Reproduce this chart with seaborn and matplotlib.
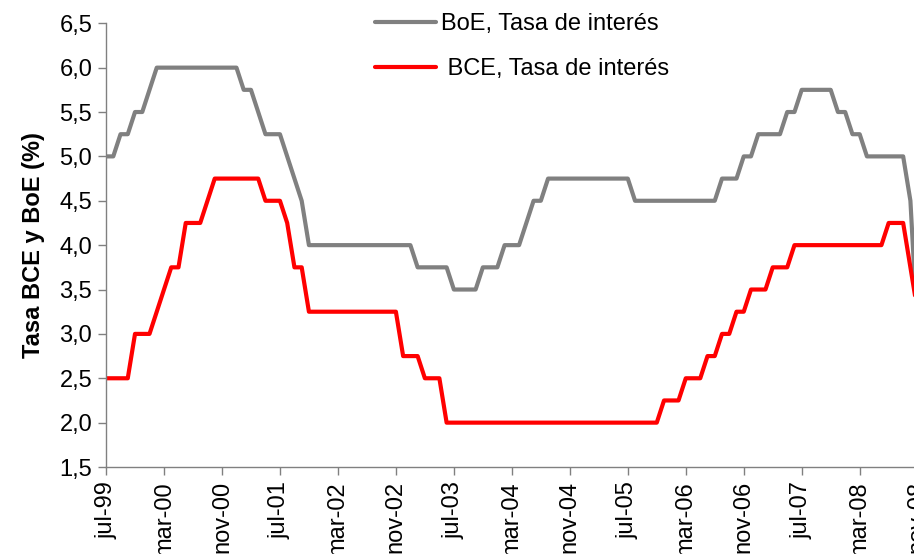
import pandas as pd
import matplotlib
matplotlib.use("Agg")
import matplotlib.pyplot as plt
from matplotlib.ticker import FuncFormatter
import seaborn as sns

# monthly end-of-month rates, jul-99 .. nov-08
boe = [5.0, 5.0, 5.25, 5.25, 5.5, 5.5, 5.75, 6.0,
       6.0, 6.0, 6.0, 6.0, 6.0, 6.0, 6.0, 6.0, 6.0, 6.0, 6.0,
       5.75, 5.75, 5.5, 5.25, 5.25, 5.25, 5.0, 4.75, 4.5,
       4.0, 4.0, 4.0, 4.0, 4.0, 4.0, 4.0, 4.0, 4.0, 4.0, 4.0, 4.0, 4.0, 4.0, 4.0,
       3.75, 3.75, 3.75, 3.75, 3.75,
       3.5, 3.5, 3.5, 3.5,
       3.75, 3.75, 3.75,
       4.0, 4.0, 4.0,
       4.25, 4.5, 4.5,
       4.75, 4.75, 4.75, 4.75, 4.75, 4.75, 4.75, 4.75, 4.75, 4.75, 4.75, 4.75,
       4.5, 4.5, 4.5, 4.5, 4.5, 4.5, 4.5, 4.5, 4.5, 4.5, 4.5, 4.5,
       4.75, 4.75, 4.75,
       5.0, 5.0,
       5.25, 5.25, 5.25, 5.25,
       5.5, 5.5,
       5.75, 5.75, 5.75, 5.75, 5.75,
       5.5, 5.5,
       5.25, 5.25,
       5.0, 5.0, 5.0, 5.0, 5.0, 5.0,
       4.5, 3.0]

bce = [2.5, 2.5, 2.5, 2.5,
       3.0, 3.0, 3.0,
       3.25, 3.5, 3.75, 3.75,
       4.25, 4.25, 4.25,
       4.5,
       4.75, 4.75, 4.75, 4.75, 4.75, 4.75, 4.75,
       4.5, 4.5, 4.5,
       4.25,
       3.75, 3.75,
       3.25, 3.25, 3.25, 3.25, 3.25, 3.25, 3.25, 3.25, 3.25, 3.25, 3.25, 3.25, 3.25,
       2.75, 2.75, 2.75,
       2.5, 2.5, 2.5,
       2.0, 2.0, 2.0, 2.0, 2.0, 2.0, 2.0, 2.0, 2.0, 2.0,
       2.0, 2.0, 2.0, 2.0, 2.0, 2.0, 2.0, 2.0, 2.0, 2.0,
       2.0, 2.0, 2.0, 2.0, 2.0, 2.0, 2.0, 2.0, 2.0, 2.0,
       2.25, 2.25, 2.25,
       2.5, 2.5, 2.5,
       2.75, 2.75,
       3.0, 3.0,
       3.25, 3.25,
       3.5, 3.5, 3.5,
       3.75, 3.75, 3.75,
       4.0, 4.0, 4.0, 4.0, 4.0, 4.0, 4.0, 4.0, 4.0, 4.0, 4.0, 4.0, 4.0,
       4.25, 4.25, 4.25,
       3.75, 3.25]

tick_labels = ["jul-99", "mar-00", "nov-00", "jul-01", "mar-02", "nov-02", "jul-03",
               "mar-04", "nov-04", "jul-05", "mar-06", "nov-06", "jul-07", "mar-08", "nov-08"]

boe_name = "BoE, Tasa de interés"
bce_name = " BCE, Tasa de interés"

df = pd.concat([
    pd.DataFrame({"mes": range(len(boe)), "tasa": boe, "serie": boe_name}),
    pd.DataFrame({"mes": range(len(bce)), "tasa": bce, "serie": bce_name}),
])

sns.set_style("white")
plt.rcParams["font.family"] = ["Liberation Sans", "DejaVu Sans"]
plt.rcParams["text.color"] = "black"
plt.rcParams["axes.labelcolor"] = "black"

fig = plt.figure(figsize=(9.14, 5.54), dpi=100)
ax = fig.add_axes([0.116, 0.157, 0.888, 0.801])

sns.lineplot(data=df, x="mes", y="tasa", hue="serie",
             palette={boe_name: "#808080", bce_name: "#ff0000"},
             linewidth=3, ax=ax)

ax.set_xlim(0, len(boe) - 1)
ax.set_ylim(1.5, 6.5)
ax.set_yticks([1.5 + 0.5 * k for k in range(11)])
ax.yaxis.set_major_formatter(FuncFormatter(lambda v, p: f"{v:.1f}".replace(".", ",")))
ax.set_xticks(range(0, len(boe), 8))
ax.set_xticklabels(tick_labels, rotation=90)

ax.tick_params(axis="both", labelsize=17, length=6, width=1, color="#808080",
               labelcolor="black", direction="out", pad=4)
ax.tick_params(axis="y", left=True)
ax.tick_params(axis="x", bottom=True)
for s in ["top", "right"]:
    ax.spines[s].set_visible(False)
for s in ["left", "bottom"]:
    ax.spines[s].set_color("#808080")
    ax.spines[s].set_linewidth(1)

ax.set_xlabel("")
ax.set_ylabel("Tasa BCE y BoE (%)", fontsize=17, fontweight="bold", labelpad=10)

h, l = ax.get_legend_handles_labels()
ax.legend(h, l, loc="upper left", bbox_to_anchor=(0.305, 1.07), frameon=False,
          fontsize=17, handlelength=2.6, handletextpad=0.2, labelspacing=0.95)

fig.savefig("out.png", dpi=100)
